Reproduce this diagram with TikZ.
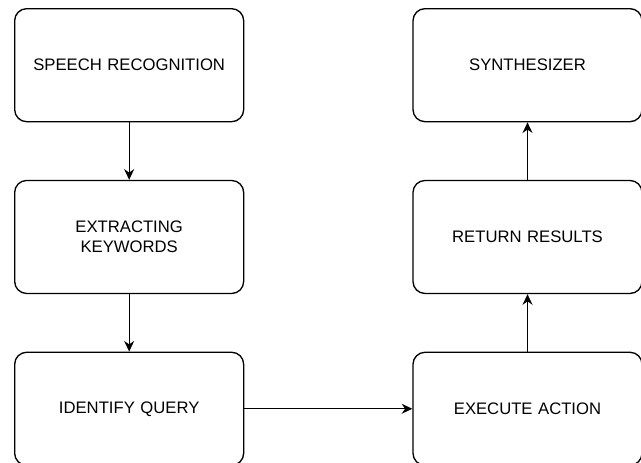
\documentclass[tikz,border=0pt]{standalone}
\usepackage{fontspec}
\setmainfont{Liberation Sans}
\usepackage{tikz}
\usetikzlibrary{arrows.meta, positioning}

\begin{document}
\begin{tikzpicture}[
    stage/.style={draw, line width=1pt, rounded corners=9pt, minimum width=171.75pt, minimum height=84.75pt, text width=160pt, align=center, font=\fontsize{12.5}{15}\selectfont},
    arrow/.style={-{Stealth[length=8pt, width=7.5pt]}, line width=1pt},
    node distance=43.1pt and 126pt
]

\useasboundingbox (0,0) rectangle (480.75pt,-346.5pt);

% Left column
\node[stage, anchor=north west] (recog) at (10.5pt,-6pt) {SPEECH RECOGNITION};
\node[stage, below=of recog] (keywords) {EXTRACTING\\KEYWORDS};
\node[stage, below=of keywords] (query) {IDENTIFY QUERY};

% Right column
\node[stage, right=of query] (execute) {EXECUTE ACTION};
\node[stage, above=of execute] (results) {RETURN RESULTS};
\node[stage, above=of results] (synth) {SYNTHESIZER};

% Arrows
\draw[arrow] (recog.south) -- (keywords.north);
\draw[arrow] (keywords.south) -- (query.north);
\draw[arrow] (query.east) -- (execute.west);
\draw[arrow] (execute.north) -- (results.south);
\draw[arrow] (results.north) -- (synth.south);

\end{tikzpicture}
\end{document}
